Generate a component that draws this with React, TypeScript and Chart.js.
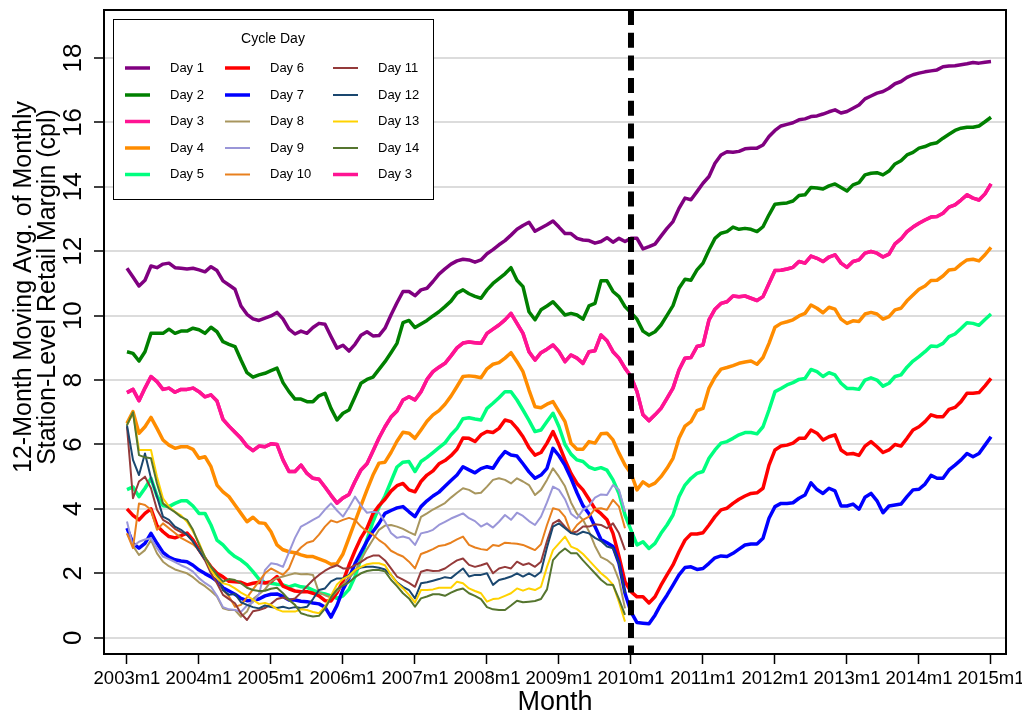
import React, { useEffect, useRef } from 'react';
import { Chart, registerables } from 'chart.js';

Chart.register(...registerables);

// ---------- data (monthly, index 0 = 2003m1) ----------
const xTickMonths = [0, 12, 24, 36, 48, 60, 72, 84, 96, 108, 120, 132, 144];
const xTickLabels = ['2003m1', '2004m1', '2005m1', '2006m1', '2007m1', '2008m1', '2009m1', '2010m1', '2011m1', '2012m1', '2013m1', '2014m1', '2015m1'];
const yTicks = [0, 2, 4, 6, 8, 10, 12, 14, 16, 18];
const breakMonth = 84; // 2010m1

const day1 = [
  11.47, 11.2, 10.92, 11.1, 11.54, 11.49, 11.6, 11.63, 11.49, 11.47,
  11.45, 11.47, 11.42, 11.36, 11.52, 11.4, 11.08, 10.95, 10.82, 10.3,
  10.04, 9.9, 9.85, 9.92, 9.99, 10.1, 9.9, 9.58, 9.43, 9.52,
  9.45, 9.63, 9.76, 9.73, 9.35, 8.99, 9.08, 8.9, 9.11, 9.39,
  9.5, 9.37, 9.38, 9.61, 10.02, 10.4, 10.75, 10.75, 10.62, 10.8,
  10.85, 11.06, 11.29, 11.45, 11.6, 11.7, 11.75, 11.73, 11.66, 11.73,
  11.92, 12.05, 12.2, 12.33, 12.5, 12.68, 12.8, 12.9, 12.62, 12.72,
  12.82, 12.94, 12.75, 12.55, 12.55, 12.4, 12.35, 12.33, 12.25, 12.3,
  12.42, 12.28, 12.4, 12.3, 12.4, 12.4, 12.07, 12.14, 12.22, 12.47,
  12.71, 12.92, 13.33, 13.65, 13.6, 13.85, 14.11, 14.32, 14.73, 14.99,
  15.09, 15.07, 15.1, 15.18, 15.2, 15.2, 15.3, 15.56, 15.75, 15.89,
  15.94, 15.99, 16.08, 16.11, 16.18, 16.2, 16.26, 16.33, 16.39, 16.29,
  16.34, 16.44, 16.54, 16.73, 16.82, 16.91, 16.96, 17.06, 17.2, 17.27,
  17.4, 17.48, 17.53, 17.57, 17.6, 17.63, 17.73, 17.75, 17.76, 17.79,
  17.82, 17.86, 17.84, 17.87, 17.89,
];
const day2 = [
  8.88, 8.83, 8.59, 8.88, 9.45, 9.45, 9.45, 9.58, 9.45, 9.52,
  9.52, 9.61, 9.56, 9.45, 9.64, 9.5, 9.19, 9.11, 9.04, 8.62,
  8.23, 8.09, 8.16, 8.21, 8.29, 8.37, 7.92, 7.64, 7.41, 7.41,
  7.33, 7.33, 7.51, 7.59, 7.12, 6.76, 6.97, 7.07, 7.48, 7.9,
  8.02, 8.09, 8.33, 8.57, 8.85, 9.14, 9.78, 9.85, 9.63, 9.74,
  9.85, 9.99, 10.12, 10.28, 10.45, 10.7, 10.8, 10.68, 10.6, 10.54,
  10.8, 11.0, 11.15, 11.3, 11.49, 11.1, 10.9, 10.12, 9.87, 10.18,
  10.3, 10.43, 10.23, 10.02, 10.07, 10.02, 9.89, 10.3, 10.38, 11.08,
  11.08, 10.75, 10.59, 10.28, 10.09, 9.89, 9.52, 9.4, 9.5, 9.71,
  10.01, 10.31, 10.85, 11.13, 11.1, 11.42, 11.63, 12.04, 12.4, 12.56,
  12.61, 12.75, 12.68, 12.71, 12.68, 12.61, 12.76, 13.13, 13.46, 13.48,
  13.5, 13.56, 13.73, 13.75, 13.98, 13.96, 13.93, 14.03, 14.09, 13.98,
  13.87, 14.06, 14.13, 14.37, 14.42, 14.44, 14.37, 14.49, 14.71, 14.81,
  14.99, 15.07, 15.2, 15.25, 15.33, 15.37, 15.51, 15.63, 15.75, 15.82,
  15.85, 15.85, 15.89, 16.02, 16.16,
];
const day3 = [
  7.61, 7.71, 7.36, 7.75, 8.11, 7.95, 7.71, 7.75, 7.62, 7.71,
  7.71, 7.75, 7.64, 7.48, 7.54, 7.35, 6.78, 6.57, 6.38, 6.19,
  5.95, 5.81, 5.95, 5.93, 6.02, 6.0, 5.52, 5.16, 5.16, 5.36,
  5.1, 4.95, 4.92, 4.68, 4.42, 4.18, 4.34, 4.45, 4.85, 5.21,
  5.4, 5.8, 6.2, 6.55, 6.85, 7.04, 7.38, 7.48, 7.38, 7.64,
  8.02, 8.26, 8.4, 8.52, 8.75, 9.0, 9.15, 9.18, 9.16, 9.14,
  9.45, 9.58, 9.71, 9.87, 10.07, 9.76, 9.45, 8.88, 8.62, 8.85,
  8.96, 9.09, 8.88, 8.57, 8.78, 8.68, 8.52, 8.88, 8.91, 9.4,
  9.22, 8.88, 8.68, 8.37, 8.11, 7.64, 6.92, 6.74, 6.92, 7.12,
  7.43, 7.75, 8.31, 8.68, 8.7, 9.04, 9.09, 9.87, 10.2, 10.38,
  10.43, 10.61, 10.59, 10.61, 10.54, 10.47, 10.59, 11.0, 11.4, 11.41,
  11.45, 11.5, 11.68, 11.63, 11.85, 11.78, 11.68, 11.82, 11.89, 11.63,
  11.5, 11.68, 11.73, 11.94, 11.99, 11.94, 11.82, 11.91, 12.23, 12.38,
  12.61, 12.75, 12.87, 12.97, 13.06, 13.08, 13.18, 13.37, 13.44, 13.59,
  13.75, 13.65, 13.59, 13.78, 14.09,
];
const day4 = [
  6.66, 7.02, 6.35, 6.55, 6.84, 6.5, 6.14, 5.98, 5.88, 5.93,
  5.93, 5.85, 5.57, 5.62, 5.31, 4.74, 4.53, 4.38, 4.12, 3.86,
  3.6, 3.74, 3.57, 3.55, 3.29, 2.88, 2.73, 2.67, 2.64, 2.57,
  2.52, 2.52, 2.45, 2.38, 2.28, 2.3, 2.6, 3.1, 3.6, 4.1,
  4.59, 5.05, 5.42, 5.45, 5.75, 6.1, 6.38, 6.35, 6.19, 6.45,
  6.72, 6.92, 7.05, 7.25, 7.5, 7.8, 8.11, 8.13, 8.11, 8.07,
  8.35, 8.49, 8.54, 8.68, 8.85, 8.57, 8.26, 7.69, 7.17, 7.14,
  7.25, 7.33, 7.02, 6.71, 6.04, 5.85, 5.85, 6.09, 6.04, 6.33,
  6.35, 6.14, 5.73, 5.36, 5.1, 4.59, 4.84, 4.71, 4.8, 5.0,
  5.26, 5.57, 6.19, 6.57, 6.71, 7.05, 7.12, 7.75, 8.09, 8.34,
  8.39, 8.45, 8.52, 8.56, 8.59, 8.49, 8.7, 9.14, 9.64, 9.76,
  9.81, 9.87, 9.99, 10.07, 10.33, 10.23, 10.09, 10.26, 10.2, 9.89,
  9.76, 9.84, 9.82, 10.05, 10.1, 10.05, 9.89, 9.97, 10.18, 10.23,
  10.46, 10.64, 10.82, 10.92, 11.09, 11.1, 11.23, 11.42, 11.44, 11.6,
  11.73, 11.75, 11.7, 11.89, 12.12,
];
const day5 = [
  4.6, 4.68, 4.38, 4.64, 4.95, 4.4, 4.1, 4.07, 4.17, 4.25,
  4.25, 4.09, 3.86, 3.86, 3.5, 3.03, 2.88, 2.67, 2.52, 2.41,
  2.26, 2.05, 1.82, 1.71, 1.69, 1.66, 1.64, 1.58, 1.64, 1.58,
  1.56, 1.48, 1.4, 1.36, 1.3, 1.22, 1.3, 1.5, 1.9, 2.45,
  3.05, 3.6, 4.05, 4.4, 4.85, 5.3, 5.45, 5.47, 5.16, 5.47,
  5.6, 5.75, 5.9, 6.05, 6.3, 6.5, 6.8, 6.83, 6.79, 6.76,
  7.12, 7.28, 7.45, 7.64, 7.64, 7.38, 7.07, 6.75, 6.4, 6.45,
  6.71, 6.97, 6.55, 6.0, 5.7, 5.52, 5.47, 5.3, 5.23, 5.28,
  5.2, 4.9, 4.48, 3.81, 3.34, 2.88, 2.98, 2.77, 2.93, 3.24,
  3.5, 3.81, 4.38, 4.74, 4.95, 5.1, 5.16, 5.57, 5.83, 6.04,
  6.09, 6.19, 6.3, 6.37, 6.37, 6.33, 6.55, 7.07, 7.64, 7.74,
  7.85, 7.92, 8.02, 8.05, 8.33, 8.26, 8.11, 8.23, 8.16, 7.9,
  7.74, 7.74, 7.71, 8.0, 8.07, 8.0, 7.81, 7.9, 8.11, 8.16,
  8.4, 8.59, 8.73, 8.88, 9.06, 9.04, 9.14, 9.35, 9.43, 9.6,
  9.78, 9.76, 9.7, 9.88, 10.05,
];
const day6 = [
  4.0, 3.8, 3.66, 3.86, 4.0, 3.48, 3.29, 3.14, 3.1, 3.17,
  3.25, 3.04, 2.73, 2.46, 2.2, 2.0, 1.89, 1.75, 1.74, 1.72,
  1.64, 1.69, 1.72, 1.7, 1.74, 1.9, 1.6, 1.52, 1.45, 1.43,
  1.43, 1.38, 1.3, 1.15, 1.14, 1.4, 1.75, 2.25, 2.7, 3.1,
  3.4, 3.85, 4.1, 4.3, 4.55, 4.72, 4.79, 4.59, 4.53, 4.85,
  5.05, 5.18, 5.4, 5.5, 5.65, 5.85, 6.2, 6.19, 6.09, 6.3,
  6.4, 6.37, 6.5, 6.76, 6.71, 6.5, 6.24, 5.9, 5.67, 5.75,
  6.04, 6.4, 5.99, 5.52, 5.1, 4.79, 4.59, 4.3, 4.0, 3.85,
  3.66, 3.24, 2.52, 1.74, 1.43, 1.27, 1.27, 1.08, 1.27, 1.63,
  1.95, 2.26, 2.67, 3.03, 3.22, 3.22, 3.26, 3.5, 3.76, 3.97,
  4.02, 4.17, 4.3, 4.4, 4.48, 4.5, 4.64, 5.36, 5.83, 5.95,
  5.98, 6.04, 6.19, 6.19, 6.45, 6.35, 6.14, 6.24, 6.3, 5.83,
  5.7, 5.72, 5.66, 5.95, 6.09, 5.93, 5.75, 5.83, 6.0, 5.95,
  6.19, 6.45, 6.55, 6.71, 6.92, 6.86, 6.86, 7.09, 7.15, 7.33,
  7.59, 7.59, 7.61, 7.82, 8.05,
];
const day7 = [
  3.4, 2.93, 2.78, 2.93, 3.24, 2.93, 2.65, 2.5, 2.42, 2.38,
  2.36, 2.25, 2.1, 1.99, 1.89, 1.76, 1.55, 1.45, 1.35, 1.22,
  1.15, 1.16, 1.2, 1.3, 1.35, 1.36, 1.28, 1.17, 1.17, 1.13,
  1.12, 1.08, 1.05, 0.95, 0.64, 1.0, 1.5, 1.85, 2.3, 2.65,
  3.0, 3.3, 3.55, 3.86, 3.95, 4.03, 4.07, 3.91, 3.76, 4.07,
  4.25, 4.4, 4.52, 4.7, 4.88, 5.05, 5.31, 5.21, 5.12, 5.25,
  5.31, 5.26, 5.55, 5.78, 5.67, 5.64, 5.4, 5.15, 4.95, 5.05,
  5.26, 5.88, 5.65, 5.35, 4.95, 4.5, 4.1, 3.85, 3.45, 3.05,
  2.95, 2.83, 2.31, 1.38, 0.8, 0.47, 0.45, 0.43, 0.7, 1.04,
  1.32, 1.63, 1.95, 2.18, 2.2, 2.12, 2.15, 2.31, 2.48, 2.54,
  2.52, 2.62, 2.75, 2.88, 2.91, 2.91, 3.09, 3.71, 4.07, 4.17,
  4.17, 4.19, 4.33, 4.43, 4.81, 4.6, 4.48, 4.64, 4.56, 4.09,
  4.09, 4.15, 3.99, 4.36, 4.48, 4.25, 3.88, 4.09, 4.12, 4.15,
  4.38, 4.59, 4.61, 4.77, 5.04, 4.95, 4.95, 5.21, 5.36, 5.52,
  5.72, 5.62, 5.72, 5.98, 6.24,
];
const day8 = [
  3.24, 2.85, 2.57, 2.72, 3.03, 2.62, 2.36, 2.22, 2.12, 2.06,
  2.0, 1.88, 1.72, 1.6, 1.45, 1.28, 0.91, 0.86, 0.86, 0.65,
  0.81, 1.2, 1.35, 1.5, 1.75, 1.85, 1.9, 1.95, 2.0, 1.97,
  1.98, 1.95, 1.4, 1.32, 1.25, 1.45, 1.65, 1.85, 2.05, 2.41,
  2.75, 3.05, 3.35, 3.48, 3.5, 3.45, 3.38, 3.28, 3.19, 3.75,
  3.86, 3.98, 4.08, 4.18, 4.35, 4.5, 4.64, 4.59, 4.48, 4.5,
  4.69, 4.9, 4.95, 4.9, 4.79, 4.95, 4.85, 4.74, 4.43, 4.59,
  4.9, 5.26, 5.0, 4.7, 4.2, 3.85, 3.66, 3.3, 2.85, 2.5,
  2.41, 2.26, 1.79, 0.91,
];
const day9 = [
  3.61, 2.83, 2.98, 3.05, 3.09, 2.78, 2.52, 2.44, 2.35, 2.25,
  2.17, 2.05, 1.85, 1.7, 1.58, 1.3, 0.95, 0.88, 0.86, 0.8,
  1.0, 1.1, 1.35, 2.1, 2.31, 2.28, 2.2, 2.65, 3.1, 3.45,
  3.55, 3.66, 3.76, 3.98, 4.17, 3.95, 3.76, 4.05, 4.38, 4.1,
  3.88, 3.91, 3.88, 3.6, 3.25, 3.1, 3.14, 3.09, 2.88, 3.24,
  3.28, 3.35, 3.5, 3.6, 3.7, 3.78, 3.86, 3.71, 3.62, 3.45,
  3.55, 3.42, 3.6, 3.81, 3.66, 3.88, 3.78, 3.62, 3.5, 3.76,
  4.2, 4.69, 4.59, 4.3, 3.85, 3.7, 3.97, 4.1, 4.35, 4.45,
  4.43, 4.74, 4.59, 3.91,
];
const day10 = [
  3.24, 2.78, 4.17, 4.12, 3.97, 3.35, 3.55, 3.4, 3.25, 3.1,
  3.0, 2.9, 2.72, 2.5, 2.2, 1.9, 1.48, 1.28, 0.96, 1.02,
  1.25, 1.5, 1.75, 2.0, 2.15, 2.05, 1.95, 2.15, 2.6, 2.8,
  2.95, 3.0, 3.2, 3.45, 3.64, 3.58, 3.66, 3.72, 3.66, 3.45,
  3.3, 3.2, 3.03, 2.9, 2.7, 2.6, 2.52, 2.36, 2.15, 2.6,
  2.67, 2.75, 2.85, 2.88, 2.95, 3.05, 3.14, 2.88, 2.8, 2.75,
  2.72, 2.88, 2.85, 2.95, 2.93, 2.92, 2.88, 2.8, 2.72, 2.9,
  3.5, 4.02, 3.97, 3.75, 3.25, 3.5, 3.66, 3.76, 4.0, 4.02,
  3.97, 4.28, 4.07, 3.4,
];
const day11 = [
  6.55, 4.33, 4.85, 5.0, 4.64, 3.97, 3.66, 3.55, 3.38, 3.28,
  3.19, 3.0, 2.7, 2.4, 2.0, 1.69, 1.33, 1.2, 1.07, 0.75,
  0.55, 0.82, 0.86, 0.92, 1.05, 1.2, 1.25, 1.17, 1.22, 1.4,
  1.6, 1.79, 1.95, 2.08, 2.18, 2.25, 2.15, 2.15, 2.25, 2.35,
  2.48, 2.55, 2.55, 2.4, 2.15, 1.9, 1.8, 1.7, 1.58, 2.05,
  2.1, 2.07, 2.08, 2.15, 2.28, 2.4, 2.46, 2.26, 2.2, 2.25,
  2.31, 2.0, 2.15, 2.2, 2.15, 2.36, 2.26, 2.31, 2.2, 2.36,
  3.0, 3.55, 3.66, 3.45, 3.25, 3.3, 3.45, 3.45, 3.52, 3.5,
  3.4, 3.55, 3.24, 2.72,
];
const day12 = [
  6.6, 5.52, 5.05, 5.72, 4.95, 4.38, 3.76, 3.66, 3.45, 3.35,
  3.2, 2.98, 2.7, 2.45, 2.2, 1.95, 1.48, 1.33, 1.36, 1.1,
  1.02, 0.95, 0.91, 1.0, 0.95, 0.92, 0.96, 0.91, 0.95, 0.92,
  0.96, 1.2, 1.48, 1.53, 1.75, 1.84, 1.84, 1.95, 2.1, 2.18,
  2.2, 2.2, 2.17, 2.12, 1.95, 1.72, 1.58, 1.48, 1.22, 1.69,
  1.72, 1.77, 1.82, 1.88, 1.85, 2.0, 2.15, 1.9, 1.95, 1.95,
  2.0, 1.64, 1.79, 1.84, 1.9, 2.0, 1.9, 2.0, 1.9, 2.05,
  2.8, 3.45, 3.55, 3.4, 3.25, 3.2, 3.29, 3.24, 3.1, 3.0,
  2.83, 2.78, 2.31, 1.38,
];
const day13 = [
  6.6, 7.0, 5.83, 5.83, 5.83, 5.0, 4.33, 4.07, 3.91, 3.8,
  3.6, 3.3, 2.95, 2.5, 2.1, 1.85, 1.69, 1.64, 1.53, 1.4,
  1.3, 1.18, 1.05, 1.08, 1.02, 0.88, 0.81, 0.81, 0.81, 0.88,
  0.86, 0.8, 0.76, 0.96, 1.3, 1.65, 1.82, 1.92, 2.1, 2.2,
  2.28, 2.31, 2.31, 2.25, 1.95, 1.7, 1.53, 1.33, 1.09, 1.48,
  1.48, 1.5, 1.55, 1.55, 1.55, 1.74, 1.69, 1.53, 1.45, 1.38,
  1.12, 1.2, 1.22, 1.3, 1.38, 1.53, 1.46, 1.53, 1.48, 1.58,
  2.2, 2.72, 2.93, 3.14, 2.83, 2.75, 2.6, 2.4, 2.2, 2.0,
  1.85, 1.65, 1.1, 0.5,
];
const day14 = [
  6.6, 7.0, 5.67, 5.6, 5.57, 4.79, 4.17, 4.02, 3.9, 3.75,
  3.66, 3.35, 2.9, 2.5, 2.2, 1.95, 1.74, 1.82, 1.79, 1.69,
  1.55, 1.48, 1.45, 1.46, 1.52, 1.55, 1.38, 1.17, 1.02, 0.76,
  0.7, 0.66, 0.68, 0.9, 1.25, 1.5, 1.62, 1.72, 1.88, 2.0,
  2.07, 2.1, 2.1, 2.06, 1.8, 1.6, 1.38, 1.22, 0.96, 1.22,
  1.28, 1.35, 1.35, 1.3, 1.4, 1.48, 1.53, 1.38, 1.3, 1.2,
  0.95, 0.88, 0.86, 0.86, 1.0, 1.15, 1.1, 1.12, 1.14, 1.2,
  1.5, 2.41, 2.62, 2.77, 2.62, 2.62, 2.4, 2.2, 2.0, 1.8,
  1.65, 1.64, 1.2, 0.71,
];

const seriesLabels = ['Day 1', 'Day 2', 'Day 3', 'Day 4', 'Day 5', 'Day 6', 'Day 7', 'Day 8', 'Day 9', 'Day 10', 'Day 11', 'Day 12', 'Day 13', 'Day 14', 'Day 3'];
const seriesValues = [day1, day2, day3, day4, day5, day6, day7, day8, day9, day10, day11, day12, day13, day14, day3];
const seriesColors = ['#800080', '#008000', '#ff1493', '#ff8c00', '#00ff7f', '#ff0000', '#0000ff', '#a8965e', '#9a96d8', '#e8801e', '#943a3a', '#1a476f', '#ffd200', '#55752f', '#ff1493'];
const seriesWidths = [3.5, 3.5, 3.5, 3.5, 3.5, 3.5, 3.5, 2, 2, 2, 2, 2, 2, 2, 3.5];

const FONT = '"Liberation Sans", Arial, Helvetica, sans-serif';

const decorPlugin = {
  id: 'decor',
  afterDatasetsDraw(chart: any) {
    const { ctx, chartArea: a, scales } = chart;
    const xs = scales.x;
    const ys = scales.y;
    ctx.save();
    // vertical dashed break line
    const xd = xs.getPixelForValue(breakMonth);
    ctx.beginPath();
    ctx.setLineDash([15, 7.7]);
    ctx.lineWidth = 6;
    ctx.strokeStyle = '#000';
    ctx.moveTo(xd, a.top);
    ctx.lineTo(xd, a.bottom);
    ctx.stroke();
    ctx.setLineDash([]);
    // frame
    ctx.lineWidth = 2;
    ctx.strokeRect(a.left, a.top, a.right - a.left, a.bottom - a.top);
    // x tick labels
    ctx.fillStyle = '#000';
    ctx.font = `18.5px ${FONT}`;
    ctx.textAlign = 'center';
    ctx.textBaseline = 'middle';
    xTickMonths.forEach((m, k) => {
      ctx.fillText(xTickLabels[k], xs.getPixelForValue(m), 679);
    });
    // y tick labels (rotated)
    ctx.font = `26px ${FONT}`;
    yTicks.forEach((v) => {
      const y = ys.getPixelForValue(v);
      ctx.save();
      ctx.translate(74, y);
      ctx.rotate(-Math.PI / 2);
      ctx.fillText(String(v), 0, 0);
      ctx.restore();
    });
    // axis titles
    ctx.font = `27px ${FONT}`;
    ctx.fillText('Month', (a.left + a.right) / 2, 703);
    ctx.save();
    ctx.translate(24, 287);
    ctx.rotate(-Math.PI / 2);
    ctx.font = `25px ${FONT}`;
    ctx.fillText('12-Month Moving Avg. of Monthly', 0, 0);
    ctx.fillText('Station-Level Retail Margin (cpl)', 0, 24);
    ctx.restore();
    ctx.restore();
  },
  afterDraw(chart: any) {
    const { ctx } = chart;
    ctx.save();
    ctx.fillStyle = '#fff';
    ctx.fillRect(113, 19, 320, 180);
    ctx.strokeStyle = '#000';
    ctx.lineWidth = 1;
    ctx.strokeRect(113.5, 19.5, 320, 180);
    ctx.fillStyle = '#000';
    ctx.font = `14px ${FONT}`;
    ctx.textAlign = 'center';
    ctx.textBaseline = 'middle';
    ctx.fillText('Cycle Day', 273, 39);
    const lineX = [[125, 150], [225, 250], [333, 358]];
    const textX = [170, 270, 378];
    const rowY = [68, 95, 121.5, 148, 174.5];
    ctx.font = `13px ${FONT}`;
    ctx.textAlign = 'left';
    chart.data.datasets.forEach((ds: any, k: number) => {
      const col = Math.floor(k / 5);
      const row = k % 5;
      const y = rowY[row];
      ctx.beginPath();
      ctx.strokeStyle = ds.borderColor;
      ctx.lineWidth = ds.borderWidth;
      ctx.moveTo(lineX[col][0], y);
      ctx.lineTo(lineX[col][1], y);
      ctx.stroke();
      ctx.fillStyle = '#000';
      ctx.fillText(ds.label, textX[col], y);
    });
    ctx.restore();
  },
};

export default function App() {
  const ref = useRef<HTMLCanvasElement>(null);
  useEffect(() => {
    if (!ref.current) return;
    const datasets = seriesValues.map((vals, k) => ({
      label: seriesLabels[k],
      data: vals.map((v, i) => ({ x: i, y: v })),
      borderColor: seriesColors[k],
      backgroundColor: seriesColors[k],
      borderWidth: seriesWidths[k],
      pointRadius: 0,
      tension: 0,
      fill: false,
      borderJoinStyle: 'round' as const,
      order: -k,
    }));
    const chart = new Chart(ref.current, {
      type: 'line',
      data: { datasets },
      options: {
        animation: false,
        responsive: false,
        devicePixelRatio: 1,
        layout: { padding: { left: 94, right: 16, top: 10, bottom: 51 } },
        plugins: { legend: { display: false }, tooltip: { enabled: false } },
        scales: {
          x: {
            type: 'linear',
            min: -3.83,
            max: 146.5,
            afterBuildTicks: (s: any) => { s.ticks = xTickMonths.map((v) => ({ value: v })); },
            ticks: { display: false },
            grid: { drawOnChartArea: false, drawTicks: true, tickLength: 10, tickColor: '#000', tickWidth: 1.5 },
            border: { display: false },
          },
          y: {
            type: 'linear',
            min: -0.506,
            max: 19.49,
            afterBuildTicks: (s: any) => { s.ticks = yTicks.map((v) => ({ value: v })); },
            ticks: { display: false },
            grid: { color: '#dcdcdc', lineWidth: 2, drawTicks: true, tickLength: 10, tickColor: '#000', tickWidth: 1.5 },
            border: { display: false },
          },
        },
      },
      plugins: [decorPlugin],
    });
    return () => chart.destroy();
  }, []);
  return (
    <div style={{ position: 'fixed', left: 0, top: 0, width: 1022, height: 715, background: '#fff' }}>
      <canvas ref={ref} width={1022} height={715} style={{ display: 'block' }} />
    </div>
  );
}
